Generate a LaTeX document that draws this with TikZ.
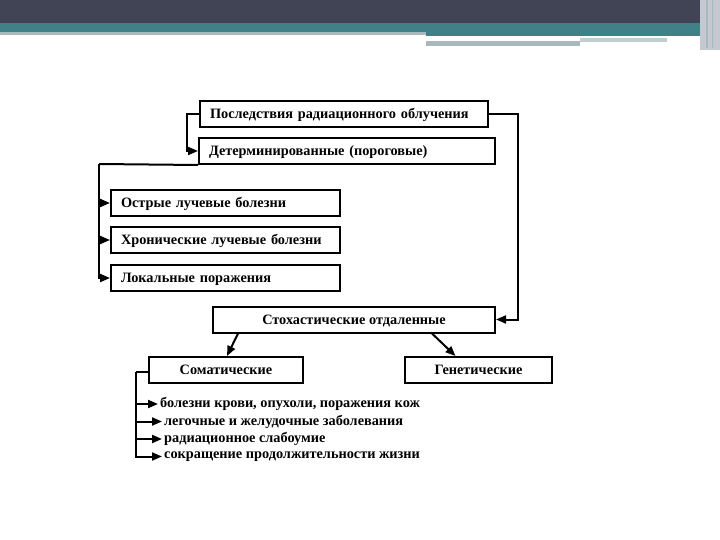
\documentclass[tikz,border=0pt]{standalone}
\usepackage{fontspec}
\setmainfont{Liberation Serif}
\usetikzlibrary{arrows.meta}
\definecolor{hdark}{RGB}{64,68,85}
\definecolor{hteal}{RGB}{64,128,135}
\definecolor{hgray}{RGB}{168,184,188}
\definecolor{hlight}{RGB}{196,200,208}
\begin{document}
\begin{tikzpicture}[x=1pt,y=-1pt,
  every node/.style={font=\bfseries\fontsize{14.3}{16}\selectfont},
  box/.style={draw, line width=2pt, minimum height=26pt, inner xsep=10pt, inner ysep=0pt, text height=9.5pt, text depth=0pt},
  lbox/.style={box, align=left, text width=#1},
  cbox/.style={box, minimum width=#1},
  conn/.style={line width=2pt},
  arr/.style={line width=2pt, -{Triangle[length=10pt,width=8pt]}},
  item/.style={anchor=west, inner sep=2pt}]
\useasboundingbox (0,0) rectangle (720,540);
% header band
\fill[hdark] (0,0) rectangle (720,23);
\fill[hteal] (0,23) rectangle (720,32);
\fill[hgray] (0,32) rectangle (426,35);
\fill[hteal] (426,32) rectangle (700,36);
\fill[hgray] (426,41) rectangle (580,46);
\fill[hgray!70] (580,38) rectangle (667,42);
\fill[hlight] (700,0) rectangle (720,50);
\fill[hgray] (706,0) rectangle (708,48);
\fill[hgray] (712,0) rectangle (713,48);
% boxes
\node[lbox=268pt] (b1) at (344,114) {Последствия радиационного облучения};
\node[lbox=276pt] (b2) at (347,151) {Детерминированные (пороговые)};
\node[lbox=209pt] (a1) at (225.5,203) {Острые лучевые болезни};
\node[lbox=209pt] (a2) at (225.5,240) {Хронические лучевые болезни};
\node[lbox=209pt] (a3) at (225.5,278) {Локальные поражения};
\node[cbox=282pt] (st) at (354,319.5) {Стохастические отдаленные};
\node[cbox=154pt] (so) at (226,370) {Соматические};
\node[cbox=147pt] (ge) at (478.5,370) {Генетические};
% list
\node[item] (i1) at (158,404) {болезни крови, опухоли, поражения кож};
\node[item] (i2) at (162,421.5) {легочные и желудочные заболевания};
\node[item] (i3) at (162,439) {радиационное слабоумие};
\node[item] (i4) at (162,456.5) {сокращение продолжительности жизни};
% connectors
\coordinate (lA) at (187,114);
\coordinate (lB) at (518,114);
\coordinate (lC) at (99,164);
\coordinate (lD) at (136,372);
\draw[arr] (b1.west) -- (lA) |- (b2.west);
\draw[arr] (b1.east) -- (lB) |- (st.east);
\draw[conn] (b2.south west) -- (lC);
\draw[arr] (lC) |- (a3.west);
\draw[arr] (lC |- a1.west) -- (a1.west);
\draw[arr] (lC |- a2.west) -- (a2.west);
\draw[arr] ([xshift=-116pt]st.south) -- ([xshift=1pt]so.north);
\draw[arr] ([xshift=78pt]st.south) -- ([xshift=-23pt]ge.north);
\draw[conn] (so.west |- lD) -- (lD);
\draw[arr] (lD) |- (i4.west);
\draw[arr] (lD |- i1.west) -- (i1.west);
\draw[arr] (lD |- i2.west) -- (i2.west);
\draw[arr] (lD |- i3.west) -- (i3.west);
\end{tikzpicture}
\end{document}
